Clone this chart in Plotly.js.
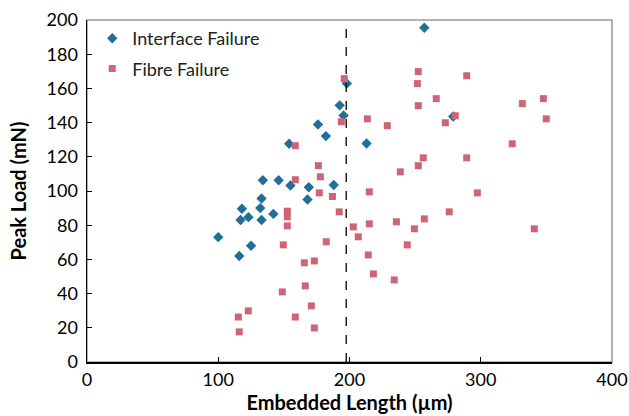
<!DOCTYPE html>
<html>
<head>
<meta charset="utf-8">
<script src="https://cdn.plot.ly/plotly-3.0.1.min.js"></script>
<style>html,body{margin:0;padding:0;background:#fff;}#chart{width:629px;height:416px;}</style>
</head>
<body>
<div id="chart"></div>
<script>
// Interface Failure data (embedded length µm, peak load mN)
const interfaceX = [100, 116, 117, 118, 123, 125, 132, 133, 133, 134, 142, 146, 155, 154, 168, 169, 176, 182, 188, 192.5, 195.5, 198, 213, 257, 279];
const interfaceY = [73, 62, 83, 89.6, 84.7, 68, 90, 95.6, 83, 106.3, 86.6, 106.3, 103.2, 127.6, 95, 102.2, 138.9, 132.1, 103.5, 150.1, 144.2, 162.8, 127.8, 195.5, 143.6];

// Fibre Failure data
const fibreX = [115.3, 122.9, 116, 148.8, 149.6, 152.6, 152.6, 152.6, 158.7, 158.7, 158.7, 165.6, 166.3, 170.9, 173.2, 173.2, 176.3, 177.8, 177, 182.3, 187, 192.2, 193.8, 196, 202.9, 206.7, 213.6, 214.3, 215.1, 215.1, 218.2, 228.8, 234.1, 235.7, 238.7, 244, 249.4, 251.7, 252.4, 252.4, 252.4, 256.2, 257, 266.1, 273, 276, 280.6, 289.3, 289.3, 297.4, 324, 331.7, 340.8, 347.7, 349.9];
const fibreY = [26.3, 29.9, 17.6, 41, 68.5, 88.2, 84.9, 79.6, 126.5, 106.6, 26.3, 58, 44.5, 32.8, 59.1, 19.9, 114.8, 108.3, 98.9, 70.3, 96.8, 87.8, 140.5, 165.7, 79, 73.2, 142.2, 62.6, 99.5, 80.8, 51.5, 138.2, 48, 82, 111.2, 68.5, 77.9, 162.8, 169.8, 149.9, 114.8, 119.4, 83.7, 154, 139.9, 87.8, 144, 167.4, 119.4, 98.9, 127.6, 151.1, 77.9, 154, 142.2];

const xTicks = [0, 100, 200, 300, 400];
const yTicks = [0, 20, 40, 60, 80, 100, 120, 140, 160, 180, 200];
const dividerX = 197.5;

const FONT = 'Lato, "Open Sans", sans-serif';

const traces = [
  {
    x: interfaceX, y: interfaceY, type: 'scatter', mode: 'markers',
    name: 'Interface Failure', legendgroup: 'a',
    marker: {symbol: 'diamond', size: 8, color: '#1F6F99'}
  },
  {
    x: fibreX, y: fibreY, type: 'scatter', mode: 'markers',
    name: 'Fibre Failure', legendgroup: 'b',
    marker: {symbol: 'square', size: 7, color: '#CF6475'}
  }
];

const layout = {
  width: 629, height: 416,
  margin: {l: 87, r: 17, t: 20, b: 54},
  paper_bgcolor: '#fff', plot_bgcolor: '#fff',
  font: {family: FONT, size: 18, color: '#000'},
  showlegend: true,
  legend: {x: 0.01, y: 1, xanchor: 'left', yanchor: 'top', bgcolor: 'rgba(0,0,0,0)',
           font: {family: FONT, size: 18, color: '#222'}, tracegroupgap: 4},
  xaxis: {
    range: [0, 400], tickvals: xTicks, ticktext: xTicks.map(String),
    showgrid: false, zeroline: false, showline: true, linecolor: '#000', linewidth: 1.5,
    ticks: 'inside', ticklen: 5, tickcolor: '#000', tickwidth: 1,
    ticklabelstandoff: 1,
    tickfont: {family: FONT, size: 18, color: '#000'},
    title: {text: '<b>Embedded Length (µm)</b>', font: {family: FONT, size: 20, color: '#000'}, standoff: 3}
  },
  yaxis: {
    range: [0, 200], tickvals: yTicks, ticktext: yTicks.map(String),
    showgrid: false, zeroline: false, showline: true, linecolor: '#000', linewidth: 1.5,
    ticks: 'inside', ticklen: 5, tickcolor: '#000', tickwidth: 1,
    ticklabelstandoff: 4,
    tickfont: {family: FONT, size: 18, color: '#000'},
    title: {text: '<b>Peak Load (mN)</b>', font: {family: FONT, size: 20, color: '#000'}, standoff: 14}
  },
  shapes: [
    {type: 'rect', xref: 'paper', yref: 'paper', x0: 0, x1: 1, y0: 0, y1: 1,
     line: {color: '#999', width: 1.5}, layer: 'below'},
    {type: 'line', xref: 'x', yref: 'y', x0: dividerX, x1: dividerX, y0: 0, y1: 200,
     line: {color: '#000', width: 1.3, dash: 'dash'}}
  ]
};

Plotly.newPlot('chart', traces, layout, {displayModeBar: false, staticPlot: true});
</script>
</body>
</html>
